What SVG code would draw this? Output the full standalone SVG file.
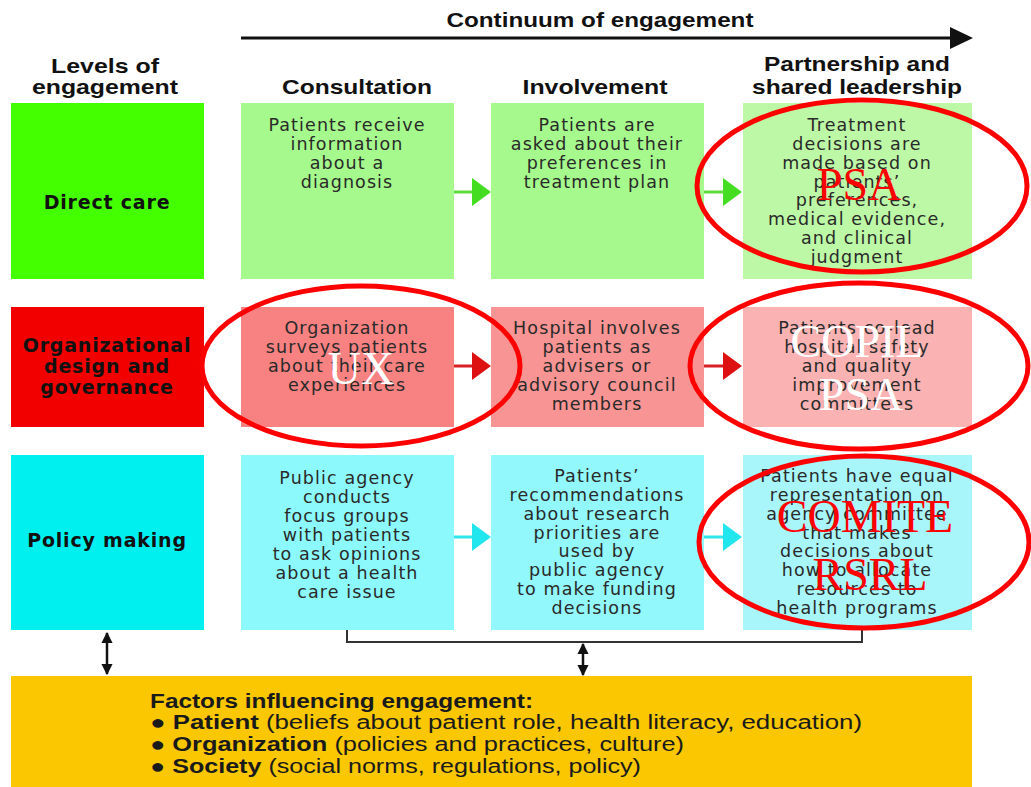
<svg xmlns="http://www.w3.org/2000/svg" width="1031" height="787" viewBox="0 0 1031 787">
<style>
.hd{font-family:"Liberation Sans",Arial,sans-serif;font-weight:bold;font-size:21px;fill:#111;text-anchor:middle}
.lv{font-family:"DejaVu Sans",sans-serif;font-weight:bold;font-size:19px;letter-spacing:0.8px;fill:#111;text-anchor:middle}
.bt{font-family:"DejaVu Sans",sans-serif;font-size:17.5px;letter-spacing:1.1px;fill:#2a2a2a;text-anchor:middle}
.ft{font-family:"Liberation Sans",Arial,sans-serif;font-size:20px;fill:#1a1a1a}
.ov{font-family:"Liberation Serif","Times New Roman",serif;font-size:46px;text-anchor:middle}
.ell{fill:none;stroke:#f00;stroke-width:5}
.blk{stroke:#111;stroke-width:2.5;fill:none}
</style>
<defs>
<marker id="ah" viewBox="0 0 10 10" refX="9" refY="5" markerWidth="4.5" markerHeight="4.5" orient="auto-start-reverse"><path d="M0,0 L10,5 L0,10 z" fill="#111"/></marker>
</defs>
<rect width="1031" height="787" fill="#fff"/>

<g id="header">
<text class="hd" x="600" y="27" textLength="307" lengthAdjust="spacingAndGlyphs">Continuum of engagement</text>
<text class="hd" x="105" y="73" textLength="108" lengthAdjust="spacingAndGlyphs">Levels of</text>
<text class="hd" x="105" y="94" textLength="146" lengthAdjust="spacingAndGlyphs">engagement</text>
<text class="hd" x="357" y="94" textLength="150" lengthAdjust="spacingAndGlyphs">Consultation</text>
<text class="hd" x="595" y="94" textLength="145" lengthAdjust="spacingAndGlyphs">Involvement</text>
<text class="hd" x="857" y="71" textLength="186" lengthAdjust="spacingAndGlyphs">Partnership and</text>
<text class="hd" x="857" y="94" textLength="210" lengthAdjust="spacingAndGlyphs">shared leadership</text>
</g>

<g id="level-direct"><rect x="11" y="103" width="193" height="176" fill="#44ff00"/><text class="lv" x="107" y="209">Direct care</text></g>
<g id="level-org"><rect x="11" y="307" width="193" height="120" fill="#f20000"/>
<text class="lv" x="107" y="352">Organizational</text><text class="lv" x="107" y="373">design and</text><text class="lv" x="107" y="394">governance</text></g>
<g id="level-policy"><rect x="11" y="455" width="193" height="175" fill="#00f0f0"/><text class="lv" x="107" y="547">Policy making</text></g>

<g id="dc-consult"><rect x="241" y="103" width="213" height="176" fill="#a6f98c"/>
<text class="bt" x="347" y="131">Patients receive</text><text class="bt" x="347" y="150">information</text><text class="bt" x="347" y="169">about a</text><text class="bt" x="347" y="188">diagnosis</text></g>
<g id="dc-involve"><rect x="491" y="103" width="213" height="176" fill="#a6f98c"/>
<text class="bt" x="597" y="131">Patients are</text><text class="bt" x="597" y="150">asked about their</text><text class="bt" x="597" y="169">preferences in</text><text class="bt" x="597" y="188">treatment plan</text></g>
<g id="dc-partner"><rect x="743" y="103" width="229" height="176" fill="#bdf8a6"/>
<text class="bt" x="857" y="131">Treatment</text><text class="bt" x="857" y="150">decisions are</text><text class="bt" x="857" y="169">made based on</text><text class="bt" x="857" y="188">patients’</text><text class="bt" x="857" y="206">preferences,</text><text class="bt" x="857" y="225">medical evidence,</text><text class="bt" x="857" y="244">and clinical</text><text class="bt" x="857" y="263">judgment</text></g>

<g id="org-consult"><rect x="241" y="307" width="213" height="120" fill="#f88282"/>
<text class="bt" x="347" y="334">Organization</text><text class="bt" x="347" y="353">surveys patients</text><text class="bt" x="347" y="372">about their care</text><text class="bt" x="347" y="391">experiences</text></g>
<g id="org-involve"><rect x="491" y="307" width="213" height="120" fill="#f99494"/>
<text class="bt" x="597" y="334">Hospital involves</text><text class="bt" x="597" y="353">patients as</text><text class="bt" x="597" y="372">advisers or</text><text class="bt" x="597" y="391">advisory council</text><text class="bt" x="597" y="410">members</text></g>
<g id="org-partner"><rect x="743" y="307" width="229" height="120" fill="#fbb2b2"/>
<text class="bt" x="857" y="334">Patients co-lead</text><text class="bt" x="857" y="353">hospital safety</text><text class="bt" x="857" y="372">and quality</text><text class="bt" x="857" y="391">improvement</text><text class="bt" x="857" y="410">committees</text></g>

<g id="pol-consult"><rect x="241" y="455" width="213" height="175" fill="#8cfafc"/>
<text class="bt" x="347" y="484">Public agency</text><text class="bt" x="347" y="503">conducts</text><text class="bt" x="347" y="522">focus groups</text><text class="bt" x="347" y="541">with patients</text><text class="bt" x="347" y="560">to ask opinions</text><text class="bt" x="347" y="579">about a health</text><text class="bt" x="347" y="598">care issue</text></g>
<g id="pol-involve"><rect x="491" y="455" width="213" height="175" fill="#92f8fb"/>
<text class="bt" x="597" y="482">Patients’</text><text class="bt" x="597" y="501">recommendations</text><text class="bt" x="597" y="520">about research</text><text class="bt" x="597" y="539">priorities are</text><text class="bt" x="597" y="557">used by</text><text class="bt" x="597" y="576">public agency</text><text class="bt" x="597" y="595">to make funding</text><text class="bt" x="597" y="614">decisions</text></g>
<g id="pol-partner"><rect x="743" y="455" width="229" height="175" fill="#a8f6fa"/>
<text class="bt" x="857" y="482">Patients have equal</text><text class="bt" x="857" y="501">representation on</text><text class="bt" x="857" y="520">agency committee</text><text class="bt" x="857" y="539">that makes</text><text class="bt" x="857" y="557">decisions about</text><text class="bt" x="857" y="576">how to allocate</text><text class="bt" x="857" y="595">resources to</text><text class="bt" x="857" y="614">health programs</text></g>

<g id="factors"><rect x="11" y="676" width="961" height="111" fill="#fbc700"/>
<text class="ft" x="150" y="708" font-weight="bold" textLength="383" lengthAdjust="spacingAndGlyphs">Factors influencing engagement:</text>
<text class="ft" x="150" y="729" textLength="712" lengthAdjust="spacingAndGlyphs">● <tspan font-weight="bold">Patient</tspan> (beliefs about patient role, health literacy, education)</text>
<text class="ft" x="150" y="751" textLength="534" lengthAdjust="spacingAndGlyphs">● <tspan font-weight="bold">Organization</tspan> (policies and practices, culture)</text>
<text class="ft" x="150" y="773" textLength="491" lengthAdjust="spacingAndGlyphs">● <tspan font-weight="bold">Society</tspan> (social norms, regulations, policy)</text>
</g>

<g id="connectors">
<line x1="241" y1="38" x2="952" y2="38" stroke="#111" stroke-width="3"/>
<path d="M950,27 L973,38 L950,49 z" fill="#111"/>
<g stroke-width="3">
<line x1="454" y1="192" x2="473" y2="192" stroke="#5ddc3a"/><path d="M472,178 L491,192 L472,206 z" fill="#44dd22"/>
<line x1="704" y1="192" x2="724" y2="192" stroke="#5ddc3a"/><path d="M723,178 L742,192 L723,206 z" fill="#44dd22"/>
<line x1="454" y1="366" x2="473" y2="366" stroke="#d82020"/><path d="M472,352 L491,366 L472,380 z" fill="#dd1111"/>
<line x1="704" y1="366" x2="724" y2="366" stroke="#d82020"/><path d="M723,352 L742,366 L723,380 z" fill="#dd1111"/>
<line x1="454" y1="537" x2="473" y2="537" stroke="#30e6ee"/><path d="M472,523 L491,537 L472,551 z" fill="#22e6ee"/>
<line x1="704" y1="537" x2="724" y2="537" stroke="#30e6ee"/><path d="M723,523 L742,537 L723,551 z" fill="#22e6ee"/>
</g>
<path d="M347,630 V642 H862 V630" fill="none" stroke="#333" stroke-width="2"/>
<line class="blk" x1="107" y1="633" x2="107" y2="674" marker-start="url(#ah)" marker-end="url(#ah)"/>
<line class="blk" x1="583" y1="644" x2="583" y2="675" marker-start="url(#ah)" marker-end="url(#ah)"/>
</g>

<g id="annotations">
<ellipse class="ell" cx="862" cy="186" rx="165" ry="86"/>
<ellipse class="ell" cx="361" cy="366" rx="159" ry="80"/>
<ellipse class="ell" cx="859" cy="366" rx="169" ry="83"/>
<ellipse class="ell" cx="864" cy="542" rx="165" ry="86"/>
<text class="ov" x="859" y="200" fill="#f00">PSA</text>
<text class="ov" x="361" y="384" fill="#fff" font-size="50">UX</text>
<text class="ov" x="857" y="357" fill="#fff">COPIL</text>
<text class="ov" x="861" y="410" fill="#fff">PSA</text>
<text class="ov" x="865" y="532" fill="#f00">COMITE</text>
<text class="ov" x="870" y="590" fill="#f00">RSRL</text>
</g>
</svg>
